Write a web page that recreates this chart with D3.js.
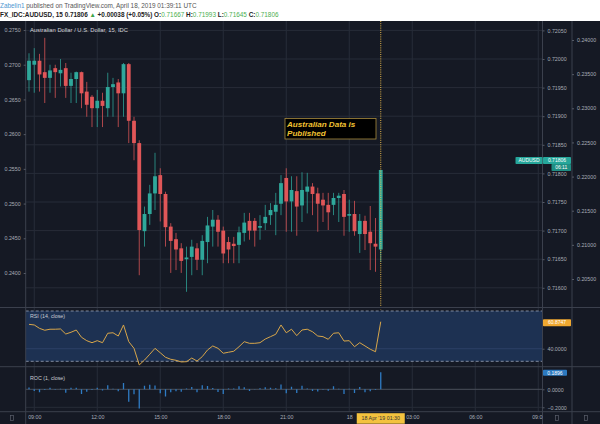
<!DOCTYPE html>
<html><head><meta charset="utf-8">
<script src="https://cdn.jsdelivr.net/npm/d3@7"></script>
<style>html,body{margin:0;padding:0;background:#fff;}svg{display:block;font-family:"Liberation Sans",Arial,sans-serif;}</style>
</head><body><svg id="c" width="600" height="424"></svg>
<script>
// ---------- DATA ----------
const barStart = new Date(2019, 3, 17, 8, 45); // first 15-min bar
const opens  = [0.71963,0.71990,0.71997,0.71977,0.71967,0.71984,0.71975,0.71984,0.71953,0.71965,0.71977,0.71943,0.71934,0.71914,0.71927,0.71914,0.71951,0.71959,0.71940,0.71991,0.71892,0.71853,0.71699,0.71729,0.71765,0.71797,0.71764,0.71707,0.71685,0.71669,0.71650,0.71654,0.71669,0.71649,0.71680,0.71707,0.71719,0.71700,0.71680,0.71677,0.71675,0.71696,0.71717,0.71717,0.71705,0.71713,0.71727,0.71733,0.71747,0.71792,0.71751,0.71769,0.71744,0.71768,0.71777,0.71765,0.71754,0.71745,0.71745,0.71757,0.71764,0.71726,0.71729,0.71694,0.71717,0.71698,0.71677,0.71667];
const highs  = [0.72010,0.72019,0.72009,0.72037,0.71990,0.71990,0.72000,0.71993,0.71976,0.71978,0.71978,0.71960,0.71937,0.71946,0.71941,0.71976,0.71967,0.71965,0.71993,0.71993,0.71899,0.71858,0.71742,0.71780,0.71836,0.71809,0.71768,0.71713,0.71696,0.71678,0.71672,0.71684,0.71678,0.71692,0.71724,0.71736,0.71727,0.71707,0.71689,0.71689,0.71707,0.71731,0.71731,0.71722,0.71727,0.71745,0.71748,0.71766,0.71797,0.71809,0.71795,0.71795,0.71802,0.71801,0.71783,0.71775,0.71766,0.71766,0.71766,0.71766,0.71771,0.71754,0.71752,0.71729,0.71726,0.71743,0.71722,0.71806];
const lows   = [0.71943,0.71941,0.71943,0.71923,0.71941,0.71932,0.71952,0.71932,0.71923,0.71923,0.71914,0.71899,0.71881,0.71881,0.71881,0.71899,0.71899,0.71881,0.71899,0.71853,0.71823,0.71622,0.71672,0.71710,0.71736,0.71716,0.71672,0.71626,0.71631,0.71626,0.71593,0.71622,0.71631,0.71622,0.71643,0.71672,0.71672,0.71643,0.71643,0.71643,0.71643,0.71681,0.71684,0.71672,0.71684,0.71701,0.71710,0.71692,0.71727,0.71698,0.71698,0.71691,0.71715,0.71730,0.71727,0.71698,0.71715,0.71701,0.71727,0.71715,0.71691,0.71698,0.71691,0.71661,0.71666,0.71631,0.71628,0.71645];
const closes = [0.71997,0.71997,0.71973,0.71967,0.71980,0.71977,0.71981,0.71953,0.71965,0.71977,0.71940,0.71920,0.71914,0.71927,0.71918,0.71951,0.71956,0.71940,0.71991,0.71892,0.71853,0.71701,0.71729,0.71765,0.71795,0.71764,0.71706,0.71682,0.71667,0.71647,0.71653,0.71672,0.71649,0.71682,0.71709,0.71719,0.71698,0.71660,0.71667,0.71673,0.71697,0.71714,0.71700,0.71700,0.71708,0.71724,0.71736,0.71745,0.71783,0.71751,0.71771,0.71742,0.71771,0.71777,0.71764,0.71747,0.71744,0.71732,0.71757,0.71761,0.71724,0.71729,0.71699,0.71717,0.71694,0.71678,0.71672,0.71806];
const rsiValues = [59.4,58.9,56.2,54.7,55.5,55.5,55.7,51.7,53.1,54.9,49.1,46.4,44.8,46.4,44.8,52.3,52.7,50.1,58.9,45.6,40.3,27.1,31.0,35.6,40.3,36.8,33.2,31.6,30.8,29.5,29.7,32.6,30.2,33.7,39.0,42.2,40.3,36.4,37.2,38.0,41.6,45.6,44.3,44.3,44.8,47.7,49.6,51.5,58.9,52.7,55.5,50.4,54.9,55.5,53.5,50.1,49.6,47.5,52.3,52.7,46.1,46.4,41.6,44.8,42.2,39.6,37.6,61.5];
const rocValues = [0.02,-0.02,-0.033,-0.008,0.018,-0.004,0.006,-0.039,0.017,0.017,-0.052,-0.028,-0.008,0.018,-0.013,0.046,0.007,-0.022,0.071,-0.138,-0.054,-0.212,0.039,0.050,0.042,-0.043,-0.081,-0.033,-0.021,-0.028,0.008,0.026,-0.032,0.046,0.038,0.014,-0.029,-0.053,0.010,0.008,0.033,0.024,-0.020,-0.002,0.011,0.022,0.017,0.013,0.053,-0.045,0.028,-0.040,0.040,0.008,-0.018,-0.024,-0.004,-0.017,0.035,0.006,-0.052,0.007,-0.042,0.025,-0.032,-0.022,-0.008,0.1896];
const priceTicks = [0.716,0.7165,0.717,0.7175,0.718,0.7185,0.719,0.7195,0.72,0.7205];
const leftTicks = [0.24,0.245,0.25,0.255,0.26,0.265,0.27,0.275];
const right2Ticks = [0.205,0.21,0.215,0.22,0.225,0.23,0.235,0.24];
const timeTickHours = [9,12,15,18,21,24,27,30,33];
const timeTickLabels = ["09:00","12:00","15:00","18:00","21:00","18","03:00","06:00","09:00"];
const eventBar = 67;
const lastPrice = 0.71806, lastRsi = "60.8747", lastRoc = "0.1896";

// ---------- LAYOUT ----------
const svg = d3.select("#c");
const W=600,H=424;
const L=25.7, R=542.5, R2=572;
const topY=21, mainBot=307.5, rsiBot=366.7, rocBot=411.7;
const bg="#151924", grid="#272c38", sep="#3b404d", txt="#a9adb8";
const up="#2fa89b", dn="#e05658";
const fs="5.3px";

const times = d3.range(closes.length).map(i=>d3.timeMinute.offset(barStart, 15*i));
const x = d3.scaleTime().domain([barStart, d3.timeMinute.offset(barStart, 97*15)]).range([29, 538.25]);
const y = d3.scaleLinear().domain([0.716,0.7205]).range([287.8,30.4]);
const yLeft = d3.scaleLinear().domain([0.24,0.275]).range([273,30]);
const yR2 = d3.scaleLinear().domain([0.205,0.24]).range([279,40]);
const yRsi = d3.scaleLinear().domain([30,70]).range([361.3,311]);
const yRoc = d3.scaleLinear().domain([-0.2,0]).range([407.3,389.3]);

// header
svg.append("rect").attr("width",W).attr("height",topY).attr("fill","#fff");
const h1 = svg.append("text").attr("x",0).attr("y",8.3).attr("font-size","6.4px").attr("fill","#555");
h1.append("tspan").attr("fill","#4f97d1").text("Zabelin1");
h1.append("tspan").text(" published on TradingView.com, April 18, 2019 01:39:11 UTC");
const h2 = svg.append("text").attr("x",0).attr("y",17.3).attr("font-size","6.4px").attr("font-weight","bold").attr("fill","#222");
h2.append("tspan").text("FX_IDC:AUDUSD, 15  0.71806 ");
h2.append("tspan").attr("fill","#3fa54a").text("▲");
h2.append("tspan").text(" +0.00038 (+0.05%) O:");
h2.append("tspan").attr("fill","#4caf50").attr("font-weight","normal").text("0.71667");
h2.append("tspan").text(" H:");
h2.append("tspan").attr("fill","#4caf50").attr("font-weight","normal").text("0.71993");
h2.append("tspan").text(" L:");
h2.append("tspan").attr("fill","#4caf50").attr("font-weight","normal").text("0.71645");
h2.append("tspan").text(" C:");
h2.append("tspan").attr("fill","#4caf50").attr("font-weight","normal").text("0.71806");

// background
svg.append("rect").attr("y",topY).attr("width",W).attr("height",H-topY).attr("fill",bg);

// clip
const defs = svg.append("defs");
defs.append("clipPath").attr("id","plot").append("rect").attr("x",L).attr("y",topY).attr("width",R-L).attr("height",rocBot-topY);
defs.append("clipPath").attr("id","xlab").append("rect").attr("x",L).attr("y",rocBot).attr("width",R-L).attr("height",H-rocBot);

// vertical grid
const tickDates = timeTickHours.map(h=>d3.timeHour.offset(new Date(2019,3,17,0,0), h));
svg.append("g").selectAll("line").data(tickDates).join("line")
  .attr("x1",d=>x(d)).attr("x2",d=>x(d)).attr("y1",topY).attr("y2",rocBot)
  .attr("stroke",grid).attr("stroke-width",1);
// horizontal grid main
svg.append("g").selectAll("line").data(priceTicks).join("line")
  .attr("x1",L).attr("x2",R).attr("y1",d=>y(d)).attr("y2",d=>y(d)).attr("stroke",grid);

// RSI band
svg.append("rect").attr("x",L).attr("y",yRsi(70)).attr("width",R-L).attr("height",yRsi(30)-yRsi(70)).attr("fill","#1d3152");
svg.append("line").attr("x1",L).attr("x2",R).attr("y1",yRsi(40)).attr("y2",yRsi(40)).attr("stroke","#2c4066");
[70,30].forEach(v=>svg.append("line").attr("x1",L).attr("x2",R).attr("y1",yRsi(v)).attr("y2",yRsi(v))
  .attr("stroke","#8d97ab").attr("stroke-dasharray","3,2").attr("stroke-width",0.9));
// ROC grid
[0,-0.2].forEach(v=>svg.append("line").attr("x1",L).attr("x2",R).attr("y1",yRoc(v)).attr("y2",yRoc(v)).attr("stroke", v===0?"#4a4f5b":grid));

// candles
const cg = svg.append("g").attr("clip-path","url(#plot)");
const idx = d3.range(closes.length);
cg.selectAll("line.w").data(idx).join("line").attr("class","w")
  .attr("x1",i=>x(times[i])).attr("x2",i=>x(times[i]))
  .attr("y1",i=>y(highs[i])).attr("y2",i=>y(lows[i]))
  .attr("stroke",i=>closes[i]>=opens[i]?up:dn).attr("stroke-opacity",0.75).attr("stroke-width",1);
cg.selectAll("rect.b").data(idx).join("rect").attr("class","b")
  .attr("x",i=>x(times[i])-1.9).attr("width",3.8)
  .attr("y",i=>y(Math.max(opens[i],closes[i])))
  .attr("height",i=>Math.max(1,Math.abs(y(opens[i])-y(closes[i]))))
  .attr("fill",i=>closes[i]>=opens[i]?up:dn);

// RSI line
cg.append("path").datum(idx).attr("fill","none").attr("stroke","#d8a64a").attr("stroke-width",1)
  .attr("d",d3.line().x(i=>x(times[i])).y(i=>yRsi(rsiValues[i])));
// ROC bars
cg.selectAll("line.r").data(idx).join("line").attr("class","r")
  .attr("x1",i=>x(times[i])).attr("x2",i=>x(times[i]))
  .attr("y1",yRoc(0)).attr("y2",i=>yRoc(rocValues[i]))
  .attr("stroke","#2f7cc5").attr("stroke-width",1.3);

// event line
svg.append("line").attr("x1",x(times[eventBar])).attr("x2",x(times[eventBar])).attr("y1",topY).attr("y2",mainBot+2)
  .attr("stroke","#e8b84a").attr("stroke-dasharray","1,1.2").attr("stroke-width",1);

// annotation
const ann = svg.append("g");
ann.append("rect").attr("x",285).attr("y",118.5).attr("width",91).attr("height",20.5).attr("fill","#000").attr("stroke","#a88a3c").attr("stroke-width",0.8);
const at = ann.append("text").attr("font-size","8.1px").attr("font-weight","bold").attr("font-style","italic").attr("fill","#f1c232");
at.append("tspan").attr("x",287).attr("y",126.6).text("Australian Data is");
at.append("tspan").attr("x",287).attr("y",136.1).text("Published");

// titles
svg.append("text").attr("x",30).attr("y",32.2).attr("font-size","5.8px").attr("fill","#d4d6dc").text("Australian Dollar / U.S. Dollar, 15, IDC");
svg.append("text").attr("x",30).attr("y",317.5).attr("font-size","5.3px").attr("fill","#c8cbd3").text("RSI (14, close)");
svg.append("text").attr("x",30).attr("y",379.5).attr("font-size","5.3px").attr("fill","#c8cbd3").text("ROC (1, close)");

// separators
[[L,topY,L,H],[R,topY,R,H],[R2,topY,R2,H]].forEach(s=>svg.append("line").attr("x1",s[0]).attr("y1",s[1]).attr("x2",s[2]).attr("y2",s[3]).attr("stroke",sep));
[mainBot,rsiBot,rocBot].forEach(v=>svg.append("line").attr("x1",0).attr("x2",W).attr("y1",v).attr("y2",v).attr("stroke",sep));

// axes
function styleAxis(g){ g.select(".domain").remove(); g.selectAll("text").attr("fill",txt).attr("font-size",fs); g.selectAll("line").attr("stroke","#555a66"); }
svg.append("g").attr("transform",`translate(${L},0)`)
  .call(d3.axisLeft(yLeft).tickValues(leftTicks).tickFormat(d3.format(".4f")).tickSize(2).tickPadding(3))
  .call(styleAxis);
svg.append("g").attr("transform",`translate(${R},0)`)
  .call(d3.axisRight(y).tickValues(priceTicks).tickFormat(d3.format(".5f")).tickSize(2).tickPadding(3))
  .call(styleAxis);
svg.append("g").attr("transform",`translate(${R2},0)`)
  .call(d3.axisRight(yR2).tickValues(right2Ticks).tickFormat(d3.format(".5f")).tickSize(2).tickPadding(3))
  .call(styleAxis);
svg.append("g").attr("transform",`translate(${R},0)`)
  .call(d3.axisRight(yRsi).tickValues([40]).tickFormat(d3.format(".4f")).tickSize(2).tickPadding(3))
  .call(styleAxis);
svg.append("g").attr("transform",`translate(${R},0)`)
  .call(d3.axisRight(yRoc).tickValues([0,-0.2]).tickFormat(d3.format(".4f")).tickSize(2).tickPadding(3))
  .call(styleAxis);
svg.append("g").attr("clip-path","url(#xlab)").append("g").attr("transform",`translate(0,${rocBot})`)
  .call(d3.axisBottom(x).tickValues(tickDates).tickFormat((d,i)=>timeTickLabels[i]).tickSize(0).tickPadding(3.5))
  .call(styleAxis);

// badges
function badge(x0,yc,w,h,fill,label,col){
  svg.append("rect").attr("x",x0).attr("y",yc-h/2).attr("width",w).attr("height",h).attr("fill",fill).attr("rx",0.8);
  svg.append("text").attr("x",x0+w/2).attr("y",yc+1.8).attr("text-anchor","middle").attr("font-size","5px").attr("fill",col).text(label);
}
const py = y(lastPrice);
badge(515.5,py-9.5,27,7,"#26a69a","AUDUSD","#fff");
badge(543,py-9.5,28,7,"#26a69a",d3.format(".5f")(lastPrice),"#fff");
badge(551.5,py-2.5,19.5,7,"#1f8f84","06:11","#fff");
badge(543,yRsi(rsiValues[eventBar])+1,28,7,"#f0a830",lastRsi,"#fff");
badge(543,yRoc(rocValues[eventBar])+0.5,24,6,"#2c79c0",lastRoc,"#fff");
const dx = x(times[eventBar]);
svg.append("rect").attr("x",dx-24).attr("y",rocBot+1.5).attr("width",48).attr("height",10.5).attr("fill","#f3c23e");
svg.append("text").attr("x",dx).attr("y",rocBot+8.7).attr("text-anchor","middle").attr("font-size","5.3px").attr("fill","#333")
  .text("18 Apr '19   " + d3.timeFormat("%H:%M")(times[eventBar]));

// small icons
[[12,418],[557,418],[586,418]].forEach(p=>svg.append("rect").attr("x",p[0]-1.5).attr("y",p[1]-2.5).attr("width",3).attr("height",5).attr("fill","none").attr("stroke","#5a5f6b").attr("stroke-width",0.7));
</script></body></html>
